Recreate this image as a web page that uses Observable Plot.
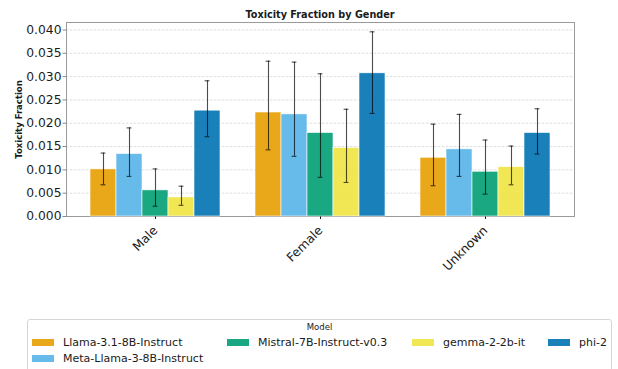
<!DOCTYPE html>
<html><head><meta charset="utf-8">
<script src="https://cdn.jsdelivr.net/npm/d3@7"></script>
<script src="https://cdn.jsdelivr.net/npm/@observablehq/plot@0.6"></script>
<style>
body{margin:0;background:#fff;font-family:"DejaVu Sans",sans-serif;color:#1a1a1a;}
#wrap{position:relative;width:618px;height:369px;overflow:hidden;}
#wrap svg{position:absolute;left:0;top:0;background:transparent;}
#title{position:absolute;left:66px;width:508px;top:10px;text-align:center;font-weight:bold;font-size:9.7px;line-height:1;}
#legend{position:absolute;left:27px;top:319px;width:585px;height:60px;border:1px solid #d6d6d6;border-radius:3px;box-sizing:border-box;background:#fff;}
#legtitle{position:absolute;left:0;width:100%;top:2.5px;text-align:center;font-size:8.5px;line-height:1;}
#items{position:absolute;left:4px;top:14px;display:grid;grid-template-columns:195px 185px 136px 60px;grid-auto-rows:16.5px;}
.item{display:flex;align-items:center;font-size:11px;white-space:nowrap;}
.sw{width:22px;height:7px;margin-right:9px;opacity:0.9;}
</style>
</head><body>
<div id="wrap">
  <div id="title">Toxicity Fraction by Gender</div>
  <div id="legend"><div id="legtitle">Model</div><div id="items"></div></div>
</div>
<script>
const genders = ["Male", "Female", "Unknown"];
const models = ["Llama-3.1-8B-Instruct", "Meta-Llama-3-8B-Instruct", "Mistral-7B-Instruct-v0.3", "gemma-2-2b-it", "phi-2"];
const colors = ["#E69F00", "#56B4E9", "#009E73", "#F0E442", "#0072B2"];
// rows: gender, columns: model
const means = [
  [0.0101, 0.0134, 0.0056, 0.0041, 0.0227],
  [0.0223, 0.0219, 0.0179, 0.0147, 0.0307],
  [0.0126, 0.0144, 0.0096, 0.0106, 0.0179]
];
const lower = [
  [0.0068, 0.0086, 0.0022, 0.0024, 0.0171],
  [0.0143, 0.0129, 0.0084, 0.0073, 0.0221],
  [0.0066, 0.0086, 0.0048, 0.0068, 0.0134]
];
const upper = [
  [0.0136, 0.0190, 0.0102, 0.0065, 0.0291],
  [0.0333, 0.0331, 0.0306, 0.0230, 0.0396],
  [0.0198, 0.0219, 0.0164, 0.0151, 0.0231]
];
const yTicks = [0, 0.005, 0.010, 0.015, 0.020, 0.025, 0.030, 0.035, 0.040];
const yDomain = [0, 0.0416];

const rows = [];
genders.forEach((g, i) => models.forEach((m, j) => rows.push({gender: g, model: m, value: means[i][j], lo: lower[i][j], hi: upper[i][j]})));

const W = 618, H = 300, mt = 22, mb = 84, ml = 66, mr = 44;
const common = {width: W, height: H, marginTop: mt, marginBottom: mb, marginLeft: ml, marginRight: mr,
  style: {fontFamily: "DejaVu Sans", fontSize: "12.3px", color: "#1a1a1a", background: "transparent", overflow: "visible"}};

const bg = Plot.plot({
  ...common,
  y: {domain: yDomain},
  marks: [
    Plot.gridY(yTicks.slice(1), {stroke: "#d4d4d4", strokeOpacity: 1, strokeWidth: 0.8, strokeDasharray: "2.5,1.5"}),
    Plot.frame({stroke: "#9a9a9a"}),
    Plot.axisY(yTicks, {tickFormat: d3.format(".3f"), fontSize: 12.3, tickSize: 3.5, tickPadding: 1.5, stroke: "#8a8a8a", fill: "#1a1a1a", label: null}),
    Plot.text(["Toxicity Fraction"], {frameAnchor: "left", rotate: -90, dx: -47, fontWeight: "bold", fontSize: 8.5, textAnchor: "middle"})
  ]
});

const fg = Plot.plot({
  ...common,
  fx: {domain: genders, paddingInner: 0.2, paddingOuter: 0.139, label: null, axis: "bottom", tickRotate: -45, tickSize: 3},
  x: {domain: models, padding: 0, axis: null},
  y: {domain: yDomain, axis: null},
  color: {domain: models, range: colors},
  marks: [
    Plot.barY(rows, {fx: "gender", x: "model", y: "value", fill: "model", fillOpacity: 0.9, stroke: "white", strokeWidth: 0.6}),
    Plot.ruleX(rows, {fx: "gender", x: "model", y1: "lo", y2: "hi", stroke: "black", strokeOpacity: 0.7, strokeWidth: 1.1}),
    Plot.tickY(rows, {fx: "gender", x: "model", y: "lo", inset: 10.6, stroke: "black", strokeOpacity: 0.7, strokeWidth: 1.1}),
    Plot.tickY(rows, {fx: "gender", x: "model", y: "hi", inset: 10.6, stroke: "black", strokeOpacity: 0.7, strokeWidth: 1.1})
  ]
});

const wrap = document.getElementById("wrap");
wrap.insertBefore(fg, wrap.firstChild);
wrap.insertBefore(bg, wrap.firstChild);

const items = document.getElementById("items");
const ncol = 4;
const extra = models.length % ncol;
let col = 1, row = 1;
models.forEach((m, i) => {
  const div = document.createElement("div");
  div.className = "item";
  div.style.gridColumn = col;
  div.style.gridRow = row;
  div.innerHTML = `<span class="sw" style="background:${colors[i]}"></span><span>${m}</span>`;
  items.appendChild(div);
  const rowsInCol = col <= extra ? Math.ceil(models.length / ncol) : Math.floor(models.length / ncol);
  row++;
  if (row > rowsInCol) { row = 1; col++; }
});
</script>
</body></html>
